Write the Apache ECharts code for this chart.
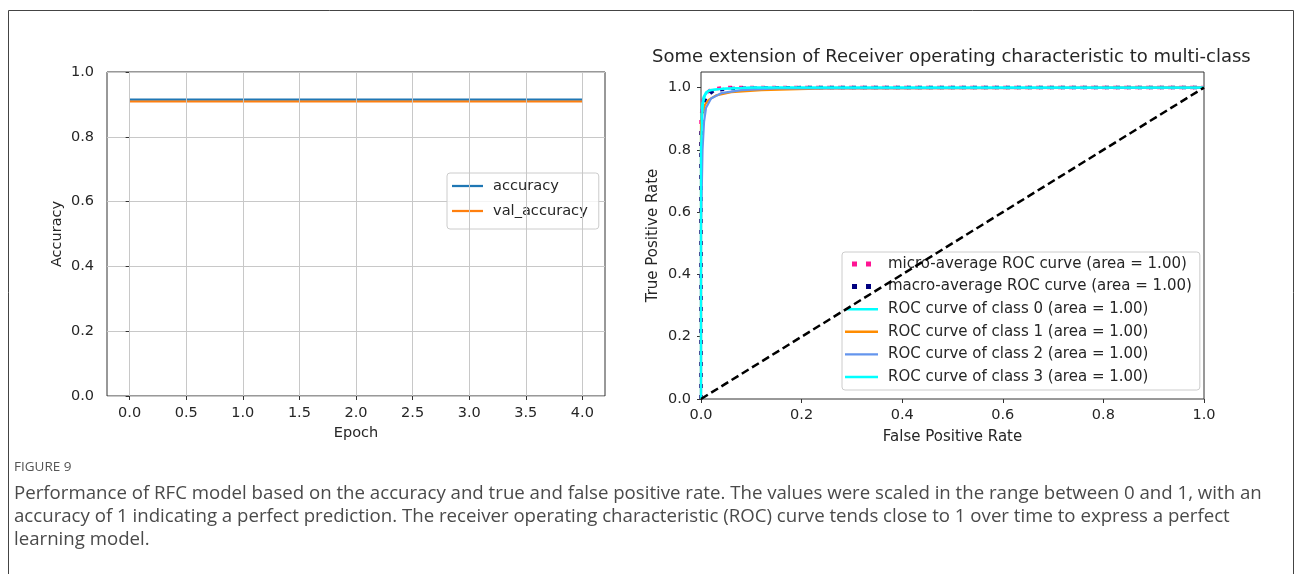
<!DOCTYPE html>
<html>
<head>
<meta charset="utf-8">
<script src="https://cdn.jsdelivr.net/npm/echarts@6/dist/echarts.min.js"></script>
<style>
	html, body { margin: 0; padding: 0; background: #fff; }
	#main { width: 1298px; height: 574px; }
</style>
</head>
<body>
<div id="main"></div>
<script>
// left panel: accuracy per epoch
var epochs = [0, 1, 2, 3, 4];
var accuracy = [0.915, 0.915, 0.915, 0.915, 0.915];
var valAccuracy = [0.909, 0.909, 0.909, 0.909, 0.909];
var epochTicks = [0, 0.5, 1, 1.5, 2, 2.5, 3, 3.5, 4];

// right panel: ROC curves
var fprMicro = [0, 0, 0.004, 0.01, 0.02, 0.05, 0.2, 1];
var tprMicro = [0, 0.9, 0.96, 0.98, 0.995, 1.0, 1.0, 1.0];
var fprMacro = [0, 0, 0.004, 0.01, 0.025, 0.06, 0.2, 1];
var tprMacro = [0, 0.85, 0.94, 0.97, 0.99, 0.997, 1.0, 1.0];
var fprClass0 = [0, 0, 0.002, 0.005, 0.01, 0.02, 0.05, 0.1, 1];
var tprClass0 = [0, 0.86, 0.94, 0.97, 0.985, 0.993, 0.997, 1.0, 1.0];
var fprClass1 = [0, 0, 0.003, 0.008, 0.015, 0.03, 0.06, 0.12, 0.25, 1];
var tprClass1 = [0, 0.88, 0.92, 0.945, 0.96, 0.975, 0.985, 0.992, 0.997, 1];
var fprClass2 = [0, 0, 0.003, 0.006, 0.01, 0.02, 0.04, 0.08, 0.15, 1];
var tprClass2 = [0, 0.55, 0.8, 0.89, 0.935, 0.965, 0.982, 0.992, 0.997, 1];
var fprClass3 = [0, 0, 0.002, 0.004, 0.008, 0.015, 0.04, 0.1, 1];
var tprClass3 = [0, 0.8, 0.9, 0.95, 0.975, 0.99, 0.996, 1.0, 1.0];
var rateTicks = [0, 0.2, 0.4, 0.6, 0.8, 1.0];

var captionLines = [
	'Performance of RFC model based on the accuracy and true and false positive rate. The values were scaled in the range between 0 and 1, with an',
	'accuracy of 1 indicating a perfect prediction. The receiver operating characteristic (ROC) curve tends close to 1 over time to express a perfect',
	'learning model.'
];

function zip(xs, ys) {
	return xs.map(function (x, i) { return [x, ys[i]]; });
}

var FONT = 'DejaVu Sans';
var TXT = '#262626';
var lineIcon = 'path://M0,0h33v2.4h-33z';
var dotIcon = 'path://M0,0h5v5h-5zM14,0h5v5h-5z';
var fmt1 = function (v) { return v.toFixed(1); };

var myChart = echarts.init(document.getElementById('main'));

var tickStyle = { show: true, inside: false, length: 4, lineStyle: { color: '#333', width: 1 } };

function rocSeries(name, xs, ys, color, width, dash, z) {
	return {
		name: name,
		type: 'line',
		xAxisIndex: 1,
		yAxisIndex: 1,
		data: zip(xs, ys),
		symbol: 'none',
		z: z,
		lineStyle: { color: color, width: width, type: dash },
		itemStyle: { color: color }
	};
}

var option = {
	animation: false,
	textStyle: { fontFamily: FONT, color: TXT },
	title: {
		text: 'Some extension of Receiver operating characteristic to multi-class',
		left: 647,
		top: 43,
		textStyle: { fontFamily: FONT, fontSize: 18, fontWeight: 'normal', color: TXT }
	},
	grid: [
		{ left: 107, top: 72, width: 498, height: 324, show: true, borderColor: '#333', borderWidth: 1, backgroundColor: 'transparent' },
		{ left: 701, top: 72, width: 503, height: 327, show: true, borderColor: '#333', borderWidth: 1, backgroundColor: 'transparent' }
	],
	legend: [
		{
			orient: 'vertical',
			left: 447,
			top: 173,
			padding: [5.5, 11, 10.5, 5],
			itemGap: 10,
			itemWidth: 31,
			itemHeight: 5,
			borderColor: '#ccc',
			borderWidth: 1,
			borderRadius: 3,
			backgroundColor: 'rgba(255,255,255,0.8)',
			textStyle: { fontFamily: FONT, fontSize: 14.6, color: TXT, padding: [0, 0, 0, 5] },
			data: [
				{ name: 'accuracy', icon: lineIcon },
				{ name: 'val_accuracy', icon: lineIcon }
			]
		},
		{
			orient: 'vertical',
			left: 842,
			top: 252,
			padding: [4.5, 8, 5.5, 3],
			itemGap: 7.6,
			itemWidth: 33,
			itemHeight: 5,
			borderColor: '#ccc',
			borderWidth: 1,
			borderRadius: 3,
			backgroundColor: 'rgba(255,255,255,0.8)',
			textStyle: { fontFamily: FONT, fontSize: 15, color: TXT, padding: [0, 0, 0, 5] },
			data: [
				{ name: 'micro-average ROC curve (area = 1.00)', icon: dotIcon },
				{ name: 'macro-average ROC curve (area = 1.00)', icon: dotIcon },
				{ name: 'ROC curve of class 0 (area = 1.00)', icon: lineIcon },
				{ name: 'ROC curve of class 1 (area = 1.00)', icon: lineIcon },
				{ name: 'ROC curve of class 2 (area = 1.00)', icon: lineIcon },
				{ name: 'ROC curve of class 3 (area = 1.00)', icon: lineIcon }
			]
		}
	],
	xAxis: [
		{
			gridIndex: 0,
			type: 'value',
			min: -0.2,
			max: 4.2,
			name: 'Epoch',
			nameLocation: 'middle',
			nameGap: 30,
			nameTextStyle: { fontFamily: FONT, fontSize: 14.5, color: TXT },
			axisLine: { show: false },
			axisTick: Object.assign({ customValues: epochTicks }, tickStyle),
			axisLabel: { customValues: epochTicks, margin: 10, fontSize: 14.5, color: TXT, fontFamily: FONT, formatter: fmt1 },
			splitLine: { show: false }
		},
		{
			gridIndex: 1,
			type: 'value',
			min: 0,
			max: 1,
			interval: 0.2,
			name: 'False Positive Rate',
			nameLocation: 'middle',
			nameGap: 31,
			nameTextStyle: { fontFamily: FONT, fontSize: 15, color: TXT },
			axisLine: { show: false },
			axisTick: tickStyle,
			axisLabel: { margin: 9, fontSize: 14.5, color: TXT, fontFamily: FONT, formatter: fmt1 },
			splitLine: { show: false }
		}
	],
	yAxis: [
		{
			gridIndex: 0,
			type: 'value',
			min: 0,
			max: 1,
			interval: 0.2,
			name: 'Accuracy',
			nameLocation: 'middle',
			nameGap: 42,
			nameTextStyle: { fontFamily: FONT, fontSize: 14.5, color: TXT },
			axisLine: { show: false },
			axisTick: tickStyle,
			axisLabel: { margin: 13, fontSize: 14.5, color: TXT, fontFamily: FONT, formatter: fmt1 },
			splitLine: { show: true, lineStyle: { color: '#c8c8c8', width: 1 } }
		},
		{
			gridIndex: 1,
			type: 'value',
			min: 0,
			max: 1.05,
			name: 'True Positive Rate',
			nameLocation: 'middle',
			nameGap: 40,
			nameTextStyle: { fontFamily: FONT, fontSize: 15, color: TXT },
			axisLine: { show: false },
			axisTick: Object.assign({ customValues: rateTicks }, tickStyle),
			axisLabel: { customValues: rateTicks, margin: 10, fontSize: 14.5, color: TXT, fontFamily: FONT, formatter: fmt1 },
			splitLine: { show: false }
		}
	],
	series: [
		{
			// vertical grid lines of the left panel
			name: 'epochGrid',
			type: 'line',
			xAxisIndex: 0,
			yAxisIndex: 0,
			data: [],
			z: 1,
			markLine: {
				silent: true,
				symbol: 'none',
				label: { show: false },
				lineStyle: { color: '#c8c8c8', width: 1, type: 'solid' },
				data: epochTicks.map(function (v) { return { xAxis: v }; })
			}
		},
		{
			name: 'accuracy',
			type: 'line',
			xAxisIndex: 0,
			yAxisIndex: 0,
			data: zip(epochs, accuracy),
			symbol: 'none',
			z: 3,
			lineStyle: { color: '#1f77b4', width: 2.2 },
			itemStyle: { color: '#1f77b4' }
		},
		{
			name: 'val_accuracy',
			type: 'line',
			xAxisIndex: 0,
			yAxisIndex: 0,
			data: zip(epochs, valAccuracy),
			symbol: 'none',
			z: 4,
			lineStyle: { color: '#ff7f0e', width: 2.2 },
			itemStyle: { color: '#ff7f0e' }
		},
		rocSeries('micro-average ROC curve (area = 1.00)', fprMicro, tprMicro, '#ff1493', 3.5, [4, 7], 3),
		rocSeries('macro-average ROC curve (area = 1.00)', fprMacro, tprMacro, '#000080', 3.5, [4, 7], 4),
		rocSeries('ROC curve of class 0 (area = 1.00)', fprClass0, tprClass0, '#00ffff', 2.2, 'solid', 5),
		rocSeries('ROC curve of class 1 (area = 1.00)', fprClass1, tprClass1, '#ff8c00', 2.2, 'solid', 6),
		rocSeries('ROC curve of class 2 (area = 1.00)', fprClass2, tprClass2, '#6495ed', 2.2, 'solid', 7),
		rocSeries('ROC curve of class 3 (area = 1.00)', fprClass3, tprClass3, '#00ffff', 2.2, 'solid', 8),
		{
			name: 'chance',
			type: 'line',
			xAxisIndex: 1,
			yAxisIndex: 1,
			data: [[0, 0], [1, 1]],
			symbol: 'none',
			z: 9,
			lineStyle: { color: '#000', width: 2.5, type: [8, 4] }
		}
	],
	graphic: [
		{
			type: 'rect',
			shape: { x: 8.5, y: 10.5, width: 1285, height: 620 },
			style: { fill: 'none', stroke: '#444', lineWidth: 1 },
			silent: true
		},
		{
			type: 'text',
			left: 14,
			top: 460,
			style: { text: 'FIGURE 9', fontFamily: 'Open Sans', fontSize: 13.5, fill: '#555' }
		}
	].concat(captionLines.map(function (line, i) {
		return {
			type: 'text',
			left: 14,
			top: 484 + i * 23,
			style: { text: line, fontFamily: 'Open Sans', fontSize: 18.65, fill: '#4a4a4a' }
		};
	}))
};

myChart.setOption(option);
</script>
</body>
</html>
